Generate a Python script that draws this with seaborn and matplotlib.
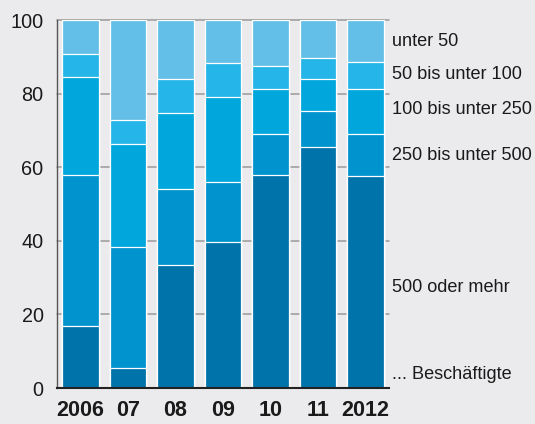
import numpy as np
import matplotlib
matplotlib.use("Agg")
import matplotlib.pyplot as plt
import matplotlib.transforms as mtransforms
import seaborn as sns

years = ["2006", "07", "08", "09", "10", "11", "2012"]
s500 = [16.8, 5.3, 33.5, 39.7, 58.0, 65.5, 57.6]
s250 = [41.0, 33.1, 20.7, 16.2, 11.1, 9.7, 11.4]
s100 = [26.7, 28.0, 20.4, 23.2, 12.2, 8.7, 12.3]
s50 = [6.3, 6.4, 9.5, 9.2, 6.3, 5.9, 7.2]
s0 = [9.2, 27.2, 15.9, 11.7, 12.4, 10.2, 11.5]
labels = ["500 oder mehr", "250 bis unter 500", "100 bis unter 250", "50 bis unter 100", "unter 50"]
label_y = [27.2, 63.3, 75.8, 85.1, 94.1]
colors = ["#0073AA", "#0093CE", "#00A6DC", "#25B5E8", "#63BFE8"]
bg = "#EBEBED"

sns.set_style("white")
plt.rcParams["font.family"] = ["Liberation Sans", "DejaVu Sans"]

fig = plt.figure(figsize=(5.35, 4.24), dpi=100, facecolor=bg)
ax = fig.add_axes([56.7 / 535, 36 / 424, (389 - 56.7) / 535, 368 / 424])
ax.set_facecolor(bg)

layers = [s500, s250, s100, s50, s0]
cum = np.cumsum(np.array(layers, dtype=float), axis=0)
for i in reversed(range(5)):
    sns.barplot(x=years, y=cum[i], color=colors[i], saturation=1, width=0.77,
                edgecolor="white", linewidth=0.9, ax=ax, zorder=3)

ax.set_ylim(0, 100)
ax.set_xlim(-0.5, 6.5)
ax.set_yticks([0, 20, 40, 60, 80, 100])
ax.yaxis.grid(True, color="#9a9a9a", lw=1.1)
for gl in ax.get_ygridlines():
    gl.set_clip_on(False)
ax.set_axisbelow(True)
ax.tick_params(axis="y", direction="out", length=5, width=1, color="#555555",
               labelsize=14.3, pad=4.5, labelcolor="#1a1a1a")
ax.tick_params(axis="x", length=0, labelsize=15.5, pad=9, labelcolor="#1a1a1a")
for t in ax.get_xticklabels():
    t.set_fontweight("bold")
ax.set_xlabel("")
ax.set_ylabel("")
for s in ["top", "right"]:
    ax.spines[s].set_visible(False)
ax.spines["left"].set_color("#555555")
ax.spines["left"].set_linewidth(1)
ax.spines["bottom"].set_color("#222222")
ax.spines["bottom"].set_linewidth(1.5)
for s in ax.spines.values():
    s.set_zorder(6)

trans = mtransforms.blended_transform_factory(ax.transAxes, ax.transData)
for lab, yv in zip(labels, label_y):
    ax.text(1.008, yv, lab, transform=trans, va="center", ha="left",
            fontsize=13.1, color="#1a1a1a")
ax.text(1.008, 3.8, "... Beschäftigte", transform=trans, va="center", ha="left",
        fontsize=13.1, color="#1a1a1a")

fig.savefig("out.png", dpi=100, facecolor=bg)
